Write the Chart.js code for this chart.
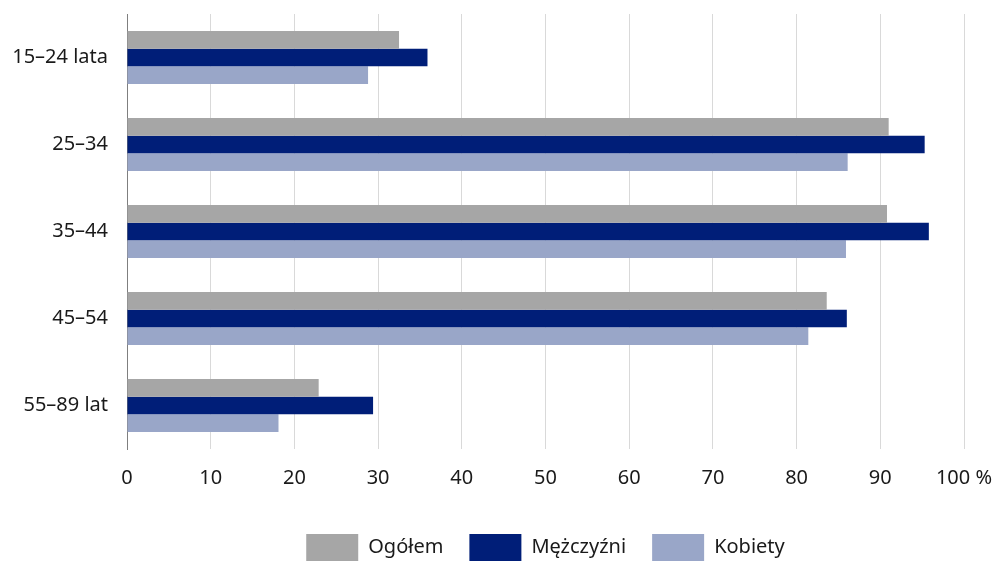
<!DOCTYPE html>
<html>
<head>
<meta charset="utf-8">
<script src="https://cdn.jsdelivr.net/npm/chart.js@4/dist/chart.umd.min.js"></script>
<style>
  html, body { margin: 0; padding: 0; background: #fff; }
  #wrap { width: 1003px; height: 561px; }
</style>
</head>
<body>
<div id="wrap"><canvas id="chart"></canvas></div>
<script>
// Data
const categories = ['15–24 lata', '25–34', '35–44', '45–54', '55–89 lat'];
const seriesNames = ['Ogółem', 'Mężczyźni', 'Kobiety'];
const ogolem = [32.5, 91.0, 90.8, 83.6, 22.9];
const mezczyzni = [35.9, 95.3, 95.8, 86.0, 29.4];
const kobiety = [28.8, 86.1, 85.9, 81.4, 18.1];
const tickLabels = ['0', '10', '20', '30', '40', '50', '60', '70', '80', '90', '100 %'];

const colors = ['#a6a6a6', '#001e78', '#99a6c8'];
const fontFamily = '"Noto Sans", "Open Sans", sans-serif';

Chart.defaults.font.family = fontFamily;
Chart.defaults.font.size = 20;
Chart.defaults.color = '#1a1a1a';

const ctx = document.getElementById('chart').getContext('2d');

new Chart(ctx, {
  type: 'bar',
  data: {
    labels: categories,
    datasets: [ogolem, mezczyzni, kobiety].map((vals, i) => ({
      label: seriesNames[i],
      data: vals,
      backgroundColor: colors[i],
      borderWidth: 0,
      categoryPercentage: 0.61,
      barPercentage: 1.0
    }))
  },
  options: {
    indexAxis: 'y',
    responsive: true,
    maintainAspectRatio: false,
    animation: false,
    layout: { padding: { top: 14, right: 39, bottom: -10, left: 0 } },
    scales: {
      x: {
        min: 0,
        max: 100,
        ticks: {
          stepSize: 10,
          padding: 17,
          maxRotation: 0,
          callback: (v, i) => tickLabels[i]
        },
        grid: { color: '#d9d9d9', drawTicks: false },
        border: { display: false },
        afterFit: (scale) => {
          scale.height = 59;
          scale.paddingLeft = 0;
          scale.paddingRight = 0;
        }
      },
      y: {
        ticks: { padding: 19 },
        grid: { display: false, drawTicks: false },
        border: { display: true, color: '#7f7f7f', width: 1 },
        afterFit: (scale) => {
          scale.width = 127;
          scale.paddingTop = 0;
          scale.paddingBottom = 0;
        }
      }
    },
    plugins: {
      legend: {
        position: 'bottom',
        fullSize: false,
        labels: {
          boxWidth: 52,
          boxHeight: 27,
          padding: 26,
          font: { size: 20 }
        }
      },
      tooltip: { enabled: false }
    }
  }
});
</script>
</body>
</html>
